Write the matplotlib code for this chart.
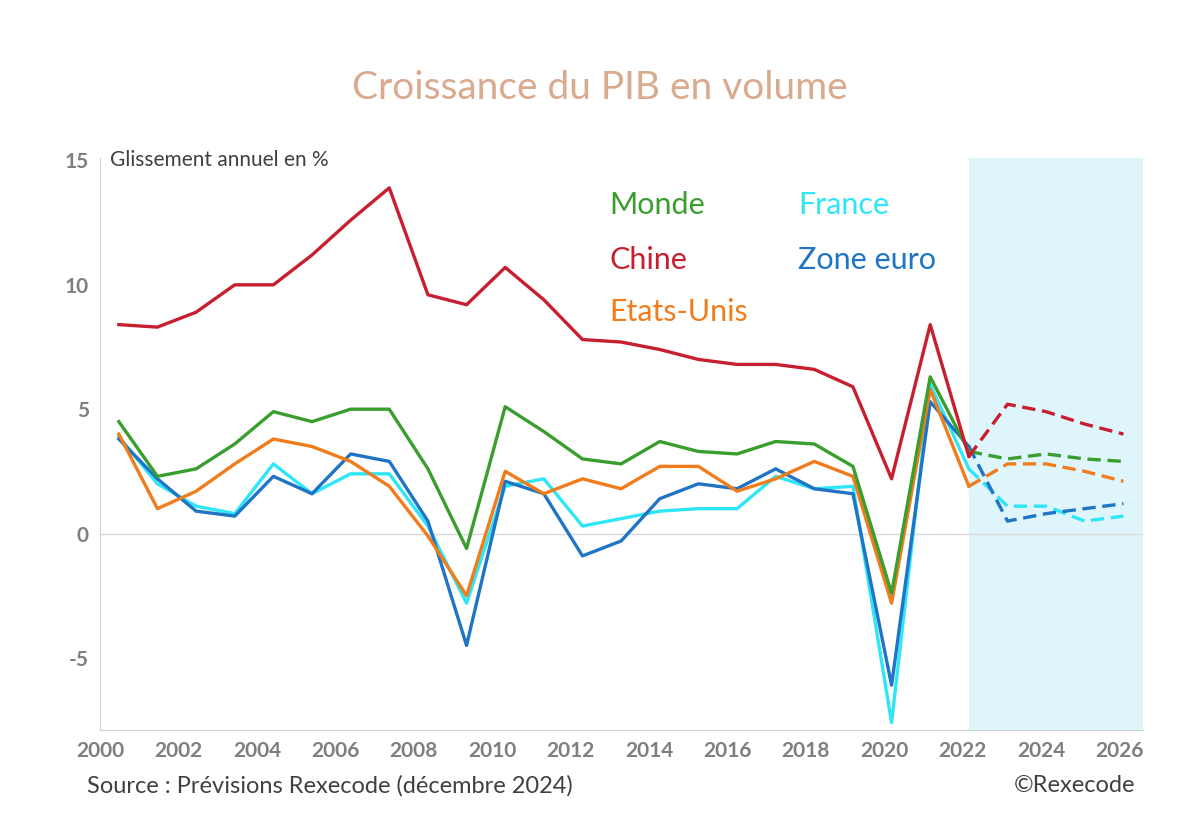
import matplotlib
matplotlib.use("Agg")
import matplotlib.pyplot as plt
import numpy as np

plt.rcParams["font.family"] = "Lato"
plt.rcParams["axes.unicode_minus"] = False

# annual points as placed on the source chart's time axis
years = np.linspace(2000.48, 2026.1, 27)
chine = [8.4, 8.3, 8.9, 10.0, 10.0, 11.2, 12.6, 13.9, 9.6, 9.2, 10.7, 9.4, 7.8, 7.7, 7.4, 7.0,
         6.8, 6.8, 6.6, 5.9, 2.2, 8.4, 3.1, 5.2, 4.9, 4.4, 4.0]
monde = [4.5, 2.3, 2.6, 3.6, 4.9, 4.5, 5.0, 5.0, 2.6, -0.6, 5.1, 4.1, 3.0, 2.8, 3.7, 3.3,
         3.2, 3.7, 3.6, 2.7, -2.4, 6.3, 3.3, 3.0, 3.2, 3.0, 2.9]
usa = [4.0, 1.0, 1.7, 2.8, 3.8, 3.5, 2.9, 1.9, -0.1, -2.5, 2.5, 1.6, 2.2, 1.8, 2.7, 2.7,
       1.7, 2.2, 2.9, 2.3, -2.8, 5.8, 1.9, 2.8, 2.8, 2.5, 2.1]
france = [3.9, 2.0, 1.1, 0.8, 2.8, 1.6, 2.4, 2.4, 0.3, -2.8, 1.9, 2.2, 0.3, 0.6, 0.9, 1.0,
          1.0, 2.3, 1.8, 1.9, -7.6, 6.0, 2.6, 1.1, 1.1, 0.5, 0.7]
zone_euro = [3.8, 2.2, 0.9, 0.7, 2.3, 1.6, 3.2, 2.9, 0.5, -4.5, 2.1, 1.6, -0.9, -0.3, 1.4, 2.0,
             1.8, 2.6, 1.8, 1.6, -6.1, 5.3, 3.5, 0.5, 0.8, 1.0, 1.2]

series = [("France", france, "#2ee6f7"), ("Zone euro", zone_euro, "#1f74c6"),
          ("Etats-Unis", usa, "#f07c1c"), ("Monde", monde, "#3a9e2e"),
          ("Chine", chine, "#c81f30")]
split = 22  # index of 2022, forecasts after

fig = plt.figure(figsize=(11.99, 8.34), dpi=100)
ax = fig.add_axes([100/1199, 104/834, 1043/1199, 572/834])
ax.axvspan(years[split], 2027, color="#dff5fc", zorder=0)
ax.axhline(0, color="#d9d9d9", lw=1, zorder=1)
for name, vals, col in series:
    v = np.array(vals)
    ax.plot(years[:split + 1], v[:split + 1], color=col, lw=2.4, zorder=3)
    ax.plot(years[split:], v[split:], color=col, lw=2.4, ls=(0, (4, 2)), zorder=3)

ax.set_xlim(2000, 2026.6)
ax.set_ylim(-7.9, 15.1)
ax.set_xticks(range(2000, 2027, 2))
ax.set_yticks([-5, 0, 5, 10, 15])
for s in ["top", "right"]:
    ax.spines[s].set_visible(False)
for s in ["left", "bottom"]:
    ax.spines[s].set_color("#d0d0d0")
ax.tick_params(length=0, labelsize=15, labelcolor="#7f7f7f", pad=8)
for t in ax.get_xticklabels() + ax.get_yticklabels():
    t.set_fontweight("bold")

ax.text(2000.25, 15, "Glissement annuel en %", fontsize=15, color="#404040", va="center")
fig.text(0.5, 1 - 88/834, "Croissance du PIB en volume", ha="center", va="center",
         fontsize=28, color="#d9aa8e")
labels = [("Monde", 2013.0, 13.2, "#3a9e2e"), ("France", 2017.8, 13.2, "#2ee6f7"),
          ("Chine", 2013.0, 11.0, "#c81f30"), ("Zone euro", 2017.8, 11.0, "#1f74c6"),
          ("Etats-Unis", 2013.0, 8.9, "#f07c1c")]
for t, x, y, c in labels:
    ax.text(x, y, t, fontsize=22, color=c, va="center")
fig.text(87/1199, 0.05, "Source : Prévisions Rexecode (décembre 2024)", fontsize=17, color="#404040")
fig.text(1135/1199, 0.05, "©Rexecode", fontsize=17, color="#404040", ha="right")

fig.savefig("out.png", dpi=100)
